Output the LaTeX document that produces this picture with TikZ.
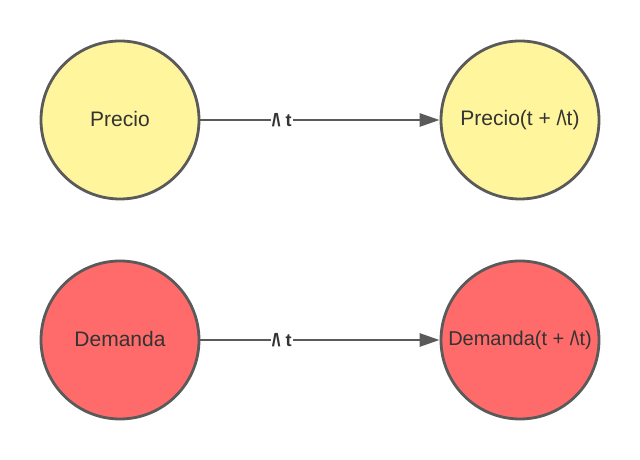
\documentclass[tikz,border=0pt]{standalone}
\usepackage{fontspec}
\setmainfont{Liberation Sans}
\usepackage{xcolor}
\usetikzlibrary{arrows.meta}

\definecolor{borde}{HTML}{5A5A5A}
\definecolor{amarillo}{HTML}{FFF59D}
\definecolor{rojo}{HTML}{FF6B6B}
\definecolor{texto}{HTML}{333333}

\newcommand{\incr}{/\kern-0.08em\textbackslash}

\tikzset{
  estado/.style={circle, draw=borde, line width=2.8pt, minimum size=158pt,
    inner sep=0pt, text=texto, font=\fontsize{21}{24}\selectfont},
  paso/.style={draw=borde, line width=2.8pt, -{Triangle[length=20pt,width=13pt]}},
  etiqueta/.style={fill=white, inner sep=1pt, text=texto,
    font=\fontsize{18}{20}\selectfont\bfseries}
}

\begin{document}
\begin{tikzpicture}[x=1pt,y=1pt]
\useasboundingbox (0,0) rectangle (640,460);

\node[estado, fill=amarillo] (precio) at (120,340) {\raisebox{3pt}{Precio}};
\node[estado, fill=amarillo] (precioT) at (520,340) {\raisebox{3pt}{Precio(t + \incr t)}};

\node[estado, fill=rojo] (demanda) at (120,120) {\raisebox{3pt}{Demanda}};
\node[estado, fill=rojo, font=\fontsize{20}{24}\selectfont] (demandaT) at (520,120) {\raisebox{3pt}{Demanda(t + \incr t)}};

\draw[paso] (precio) -- node[etiqueta, pos=0.34] {\incr\ t} (precioT);
\draw[paso] (demanda) -- node[etiqueta, pos=0.34] {\incr\ t} (demandaT);

\end{tikzpicture}
\end{document}
